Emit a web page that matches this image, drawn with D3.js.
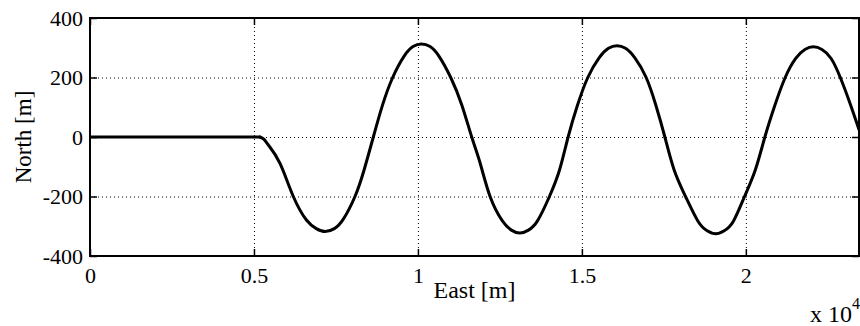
<!DOCTYPE html>
<html>
<head>
<meta charset="utf-8">
<script src="https://cdn.jsdelivr.net/npm/d3@7"></script>
<style>
  body { margin: 0; background: #fff; }
  svg { display: block; }
  text { font-family: "Liberation Serif", "Times New Roman", serif; fill: #000; }
  .grid line { stroke: #000; stroke-width: 1; stroke-dasharray: 1,3; }
  .grid path { display: none; }
  .axis path { display: none; }
  .axis line { stroke: #000; stroke-width: 1.5; }
</style>
</head>
<body>
<svg width="860" height="326"></svg>
<script>
// track: east [m], north [m]
var east = [0, 5180, 5300, 5440, 5790, 6200, 6600, 6900, 7170, 7450, 7720, 8080, 8360, 8640,
  8920, 9230, 9580, 9850, 10110, 10370, 10640, 11000, 11340, 11640,
  11890, 12200, 12570, 12850, 13110, 13370, 13650, 14010, 14320, 14580,
  14860, 15180, 15530, 15810, 16070, 16330, 16610, 16960, 17260, 17530,
  17810, 18160, 18540, 18820, 19080, 19340, 19620, 19960, 20290, 20580,
  20880, 21200, 21520, 21800, 22060, 22320, 22600, 22880, 23180, 23450];
var north = [0, 0, -7, -27, -88, -200, -279, -308, -318, -308, -277, -200, -110, 0,
  107, 200, 272, 304, 313, 304, 272, 200, 107, 0,
  -85, -200, -281, -313, -323, -313, -281, -200, -110, 0,
  105, 200, 267, 298, 307, 298, 267, 200, 105, 0,
  -110, -200, -283, -315, -325, -315, -283, -200, -110, 0,
  105, 200, 264, 294, 303, 294, 264, 200, 112, 25];

var xTicks = [0, 5000, 10000, 15000, 20000];
var xTickLabels = ["0", "0.5", "1", "1.5", "2"];
var yTicks = [-400, -200, 0, 200, 400];

var svg = d3.select("svg");
// note: "top" is taken by window.top, so use a prefix
var pLeft = 90, pRight = 859, pTop = 18, pBottom = 256;

var x = d3.scaleLinear().domain([0, 23450]).range([pLeft, pRight]);
var y = d3.scaleLinear().domain([-400, 400]).range([pBottom, pTop]);

// dotted grid
svg.append("g")
  .attr("class", "grid")
  .attr("transform", "translate(0," + pBottom + ")")
  .call(d3.axisBottom(x).tickValues(xTicks.slice(1)).tickSize(-(pBottom - pTop)).tickFormat(""));

svg.append("g")
  .attr("class", "grid")
  .attr("transform", "translate(" + pLeft + ",0)")
  .call(d3.axisLeft(y).tickValues(yTicks.slice(1, -1)).tickSize(-(pRight - pLeft)).tickFormat(""));

// curve: straight run-in, then a smooth spline through the weave
svg.append("clipPath").attr("id", "clip")
  .append("rect").attr("x", pLeft).attr("y", pTop)
  .attr("width", pRight - pLeft).attr("height", pBottom - pTop);

var pts = east.map(function(e, i) { return [e, north[i]]; });
var line = d3.line()
  .x(function(d) { return x(d[0]); })
  .y(function(d) { return y(d[1]); });

var track = svg.append("g")
  .attr("clip-path", "url(#clip)")
  .attr("fill", "none")
  .attr("stroke", "#000")
  .attr("stroke-width", 3)
  .attr("stroke-linejoin", "round")
  .attr("stroke-linecap", "round");

track.append("path").attr("d", line(pts.slice(0, 2)));
track.append("path").attr("d", line.curve(d3.curveNatural)(pts.slice(1)));

// axes with inward ticks on all four sides
var bottomAxis = svg.append("g")
  .attr("class", "axis")
  .attr("transform", "translate(0," + pBottom + ")")
  .call(d3.axisBottom(x).tickValues(xTicks).tickSize(-7).tickPadding(11)
    .tickFormat(function(d, i) { return xTickLabels[i]; }));
bottomAxis.attr("font-size", 22).attr("font-family", null);

svg.append("g")
  .attr("class", "axis")
  .attr("transform", "translate(0," + pTop + ")")
  .call(d3.axisTop(x).tickValues(xTicks).tickSize(-7).tickFormat(""));

var leftAxis = svg.append("g")
  .attr("class", "axis")
  .attr("transform", "translate(" + pLeft + ",0)")
  .call(d3.axisLeft(y).tickValues(yTicks).tickSize(-7).tickPadding(7)
    .tickFormat(function(d) { return String(d); }));
leftAxis.attr("font-size", 22).attr("font-family", null);

svg.append("g")
  .attr("class", "axis")
  .attr("transform", "translate(" + pRight + ",0)")
  .call(d3.axisRight(y).tickValues(yTicks).tickSize(-7).tickFormat(""));

// box
svg.append("rect")
  .attr("x", pLeft).attr("y", pTop)
  .attr("width", pRight - pLeft).attr("height", pBottom - pTop)
  .attr("fill", "none").attr("stroke", "#000").attr("stroke-width", 2);

// labels
svg.append("text")
  .attr("x", (pLeft + pRight) / 2).attr("y", 298)
  .attr("text-anchor", "middle").attr("font-size", 24)
  .text("East [m]");

svg.append("text")
  .attr("transform", "translate(31," + ((pTop + pBottom) / 2) + ") rotate(-90)")
  .attr("text-anchor", "middle").attr("font-size", 23)
  .text("North [m]");

svg.append("text")
  .attr("x", 852).attr("y", 322)
  .attr("text-anchor", "end").attr("font-size", 24)
  .text("x 10");
svg.append("text")
  .attr("x", 852).attr("y", 309)
  .attr("font-size", 16)
  .text("4");
</script>
</body>
</html>
